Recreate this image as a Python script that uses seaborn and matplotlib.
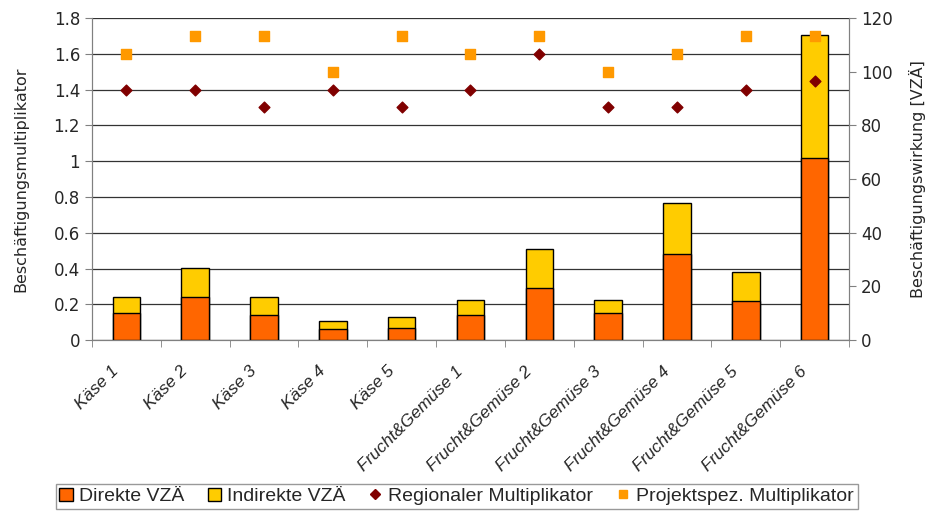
import numpy as np
import pandas as pd
import matplotlib
matplotlib.use('Agg')
import matplotlib.pyplot as plt
import matplotlib.transforms as mtransforms
import seaborn as sns
from matplotlib.lines import Line2D
from matplotlib.patches import Patch

# Daten
projekte = ['Käse 1', 'Käse 2', 'Käse 3', 'Käse 4', 'Käse 5',
            'Frucht&Gemüse 1', 'Frucht&Gemüse 2', 'Frucht&Gemüse 3',
            'Frucht&Gemüse 4', 'Frucht&Gemüse 5', 'Frucht&Gemüse 6']
direkte_vza = [10, 16, 9.5, 4, 4.7, 9.5, 19.5, 10, 32, 14.7, 68]
indirekte_vza = [6, 11, 6.5, 3, 3.8, 5.5, 14.5, 5, 19, 10.8, 45.5]
regional_mult = [1.4, 1.4, 1.3, 1.4, 1.3, 1.4, 1.6, 1.3, 1.3, 1.4, 1.45]
projekt_mult = [1.6, 1.7, 1.7, 1.5, 1.7, 1.6, 1.7, 1.5, 1.6, 1.7, 1.7]

df = pd.DataFrame({'Projekt': projekte,
                   'Direkt': direkte_vza,
                   'Indirekt': indirekte_vza,
                   'Regional': regional_mult,
                   'Projektspez': projekt_mult})
df['Gesamt'] = df['Direkt'] + df['Indirekt']

sns.set_style('white')
plt.rcParams['font.family'] = ['DejaVu Sans']

c_dir = '#FF6600'
c_ind = '#FFCC00'
c_reg = '#800000'
c_proj = '#FF9900'
narrow = ['Liberation Sans', 'DejaVu Sans']

fig, ax = plt.subplots(figsize=(9.28, 5.13), dpi=100)
fig.subplots_adjust(left=0.099, right=0.915, top=0.965, bottom=0.337)
ax2 = ax.twinx()

# Gestapelte Balken (rechte Achse)
sns.barplot(data=df, x='Projekt', y='Gesamt', color=c_ind, width=0.4,
            edgecolor='black', linewidth=1, saturation=1, ax=ax2)
sns.barplot(data=df, x='Projekt', y='Direkt', color=c_dir, width=0.4,
            edgecolor='black', linewidth=1, saturation=1, ax=ax2)

# Multiplikatoren (linke Achse), über den Balken gezeichnet
xpos = np.arange(len(projekte))
ax2.scatter(xpos, df['Regional'], marker='D', s=30, color=c_reg,
            transform=ax.transData, zorder=5, clip_on=False)
ax2.scatter(xpos, df['Projektspez'], marker='s', s=45, color=c_proj,
            transform=ax.transData, zorder=5, clip_on=False)

ax.set_xlim(-0.5, len(projekte) - 0.5)
ax2.set_xlim(-0.5, len(projekte) - 0.5)
ax.set_ylim(0, 1.8)
ax2.set_ylim(0, 120)
ax.set_yticks(np.arange(0, 1.81, 0.2))
ax.set_yticklabels(['0', '0.2', '0.4', '0.6', '0.8', '1', '1.2', '1.4', '1.6', '1.8'])
ax2.set_yticks(np.arange(0, 121, 20))

ax.yaxis.grid(True, color='#333333', linewidth=0.9)
ax.set_axisbelow(True)

ax.set_ylabel('Beschäftigungsmultiplikator', fontsize=11.5, labelpad=18)
ax2.set_ylabel('Beschäftigungswirkung [VZÄ]', fontsize=11.5, labelpad=12)
ax2.set_xlabel('')
ax.set_xlabel('')

ax.tick_params(axis='y', labelsize=12, length=5, color='#808080', direction='out', left=True)
ax2.tick_params(axis='y', labelsize=12, length=5, color='#808080', direction='out', right=True)

# Kategorienbeschriftung
ax.set_xticks(xpos)
ax.set_xticks(np.arange(-0.5, len(projekte), 1), minor=True)
ax.tick_params(axis='x', which='major', length=0, pad=17)
ax.tick_params(axis='x', which='minor', length=5, color='#808080', direction='out', bottom=True)
ax2.tick_params(axis='x', which='both', length=0, labelbottom=False)
ax.set_xticklabels(projekte, rotation=45, ha='right', rotation_mode='anchor',
                   fontstyle='italic', fontsize=12.5, family=narrow)
shift = mtransforms.ScaledTranslation(-11 / 72, 0, fig.dpi_scale_trans)
for lab in ax.get_xticklabels():
    lab.set_transform(lab.get_transform() + shift)

for a in (ax, ax2):
    a.spines['top'].set_visible(False)
    for s in ('left', 'right', 'bottom'):
        a.spines[s].set_color('#808080')

handles = [Patch(facecolor=c_dir, edgecolor='black'),
           Patch(facecolor=c_ind, edgecolor='black'),
           Line2D([], [], marker='D', color=c_reg, linestyle='', markersize=5),
           Line2D([], [], marker='s', color=c_proj, linestyle='', markersize=6)]
labels = ['Direkte VZÄ', 'Indirekte VZÄ', 'Regionaler Multiplikator', 'Projektspez. Multiplikator']
leg = fig.legend(handles, labels, loc='lower center', bbox_to_anchor=(0.492, 0.0),
                 ncol=4, frameon=True, fancybox=False, edgecolor='#808080',
                 prop={'family': narrow, 'size': 14}, handlelength=0.7,
                 handletextpad=0.3, columnspacing=1.2, borderpad=0.2,
                 borderaxespad=0.2)
leg.get_frame().set_linewidth(1)

fig.savefig('out.png', dpi=100)
